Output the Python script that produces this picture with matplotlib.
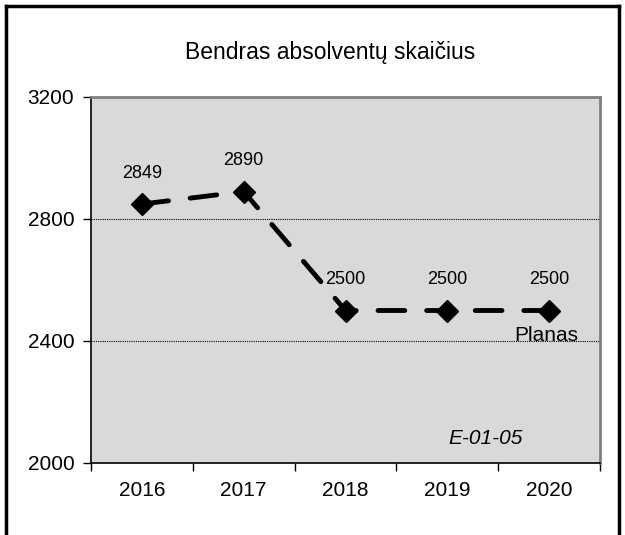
import matplotlib.pyplot as plt
from matplotlib.lines import Line2D

years = ['2016', '2017', '2018', '2019', '2020']
graduates = [2849, 2890, 2500, 2500, 2500]
y_ticks = [2000, 2400, 2800, 3200]

plt.rcParams['font.family'] = ['Liberation Sans', 'DejaVu Sans']

fig = plt.figure(figsize=(6.25, 5.35), dpi=100)
ax = fig.add_axes([91/625, 1-463/535, 509/625, 366/535])
ax.set_facecolor('#d9d9d9')

x = list(range(len(years)))
ax.plot(x, graduates, color='black', lw=3.5, dashes=(5.5, 4.5),
        dash_capstyle='round', marker='D', markersize=11, zorder=3)

# data labels
for i, v in enumerate(graduates):
    ax.annotate(str(v), (i, v), xytext=(0, 22),
                textcoords='offset points', ha='center', va='center', fontsize=13)

ax.set_xlim(-0.5, len(years) - 0.5)
ax.set_ylim(2000, 3200)
ax.set_yticks(y_ticks)
ax.set_yticklabels([str(t) for t in y_ticks], fontsize=15)
ax.set_xticks(x)
ax.set_xticklabels(years, fontsize=15)
ax.tick_params(axis='x', length=0, pad=13)
ax.set_xticks([i - 0.5 for i in range(len(years) + 1)], minor=True)
ax.tick_params(axis='x', which='minor', length=6, width=1, direction='out')
ax.tick_params(axis='y', length=6, width=1, direction='out', pad=6)

for t in [2400, 2800]:
    ax.axhline(t, color='black', lw=0.8, ls=(0, (1, 1)), zorder=1)

for s in ['top', 'right']:
    ax.spines[s].set_color('#808080')
    ax.spines[s].set_linewidth(2)
for s in ['left', 'bottom']:
    ax.spines[s].set_color('black')
    ax.spines[s].set_linewidth(1.2)

ax.text(3.97, 2450, 'Planas', ha='center', va='top', fontsize=15)
ax.text(3.38, 2080, 'E-01-05', ha='center', va='center', fontsize=15, style='italic')

fig.text(330/625, 1-52/535, 'Bendras absolventų skaičius', ha='center', va='center', fontsize=16.5)

# outer frame
bx0, bx1, by1 = 6/625, 619/625, 1-6/535
fig.add_artist(Line2D([bx0, bx0], [0, by1], color='black', lw=2.5, transform=fig.transFigure))
fig.add_artist(Line2D([bx0, bx1], [by1, by1], color='black', lw=2.5, transform=fig.transFigure))
fig.add_artist(Line2D([bx1, bx1], [0, by1], color='black', lw=2.5, transform=fig.transFigure))

fig.savefig('out.png', dpi=100)
